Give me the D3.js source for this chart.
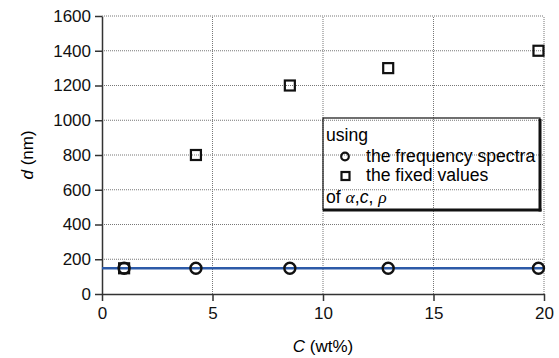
<!DOCTYPE html>
<html>
<head>
<meta charset="utf-8">
<script src="https://cdn.jsdelivr.net/npm/d3@7"></script>
<style>
  body { margin: 0; background: #fff; }
  svg { font-family: "Liberation Sans", Arial, sans-serif; }
</style>
</head>
<body>
<div id="chart"></div>
<script>
// data
var concentration = [1, 4.25, 8.5, 12.95, 19.75];
var dSpectra = [148, 148, 148, 148, 148];
var dFixed = [148, 800, 1200, 1300, 1400];
var fitLine = [{x: 0, y: 148}, {x: 20, y: 148}];
var xTicks = [0, 5, 10, 15, 20];
var yTicks = [0, 200, 400, 600, 800, 1000, 1200, 1400, 1600];

var width = 559, height = 358;
var margin = {top: 16, right: 15, bottom: 64, left: 102};

var svg = d3.select('#chart').append('svg')
    .attr('width', width)
    .attr('height', height);

var x = d3.scaleLinear().domain([0, 20]).range([margin.left, width - margin.right]);
var y = d3.scaleLinear().domain([0, 1600]).range([height - margin.bottom, margin.top]);

// grid
var grid = svg.append('g').attr('class', 'grid');
grid.selectAll('.hgrid')
    .data(yTicks.filter((d) => d > 0))
  .enter().append('line')
    .attr('x1', x(0)).attr('x2', x(20))
    .attr('y1', (d) => y(d)).attr('y2', (d) => y(d))
    .attr('stroke', '#777').attr('stroke-width', 1)
    .attr('stroke-dasharray', '1,1');
grid.selectAll('.vgrid')
    .data(xTicks.filter((d) => d > 0))
  .enter().append('line')
    .attr('x1', (d) => x(d)).attr('x2', (d) => x(d))
    .attr('y1', y(0)).attr('y2', y(1600))
    .attr('stroke', '#777').attr('stroke-width', 1)
    .attr('stroke-dasharray', '1,1');

// axes
var xAxis = svg.append('g')
    .attr('transform', 'translate(0,' + y(0) + ')')
    .call(d3.axisBottom(x).tickValues(xTicks).tickFormat(d3.format('d'))
      .tickSize(7).tickPadding(6).tickSizeOuter(0));
var yAxis = svg.append('g')
    .attr('transform', 'translate(' + x(0) + ',0)')
    .call(d3.axisLeft(y).tickValues(yTicks).tickFormat(d3.format('d'))
      .tickSize(7).tickPadding(4).tickSizeOuter(0));

[xAxis, yAxis].forEach((a) => {
  a.select('.domain').attr('stroke', '#333').attr('stroke-width', 1.5);
  a.selectAll('.tick line').attr('stroke', '#333').attr('stroke-width', 1.5);
  a.selectAll('.tick text')
      .attr('fill', '#111')
      .style('font-size', '17px')
      .style('font-family', '"Liberation Sans", Arial, sans-serif');
});

// axis titles
var xt = svg.append('text')
    .attr('x', (x(0) + x(20)) / 2)
    .attr('y', 352)
    .attr('text-anchor', 'middle')
    .style('font-size', '17px');
xt.append('tspan').style('font-style', 'italic').text('C');
xt.append('tspan').text(' (wt%)');

var yt = svg.append('text')
    .attr('transform', 'translate(33,' + (y(0) + y(1600)) / 2 + ') rotate(-90)')
    .attr('text-anchor', 'middle')
    .style('font-size', '17px');
yt.append('tspan').style('font-style', 'italic').text('d');
yt.append('tspan').text(' (nm)');

// fitted line
var line = d3.line().x((d) => x(d.x)).y((d) => y(d.y));
svg.append('path')
    .datum(fitLine)
    .attr('d', line)
    .attr('fill', 'none')
    .attr('stroke', '#2c5aa8')
    .attr('stroke-width', 2.5);

// squares: fixed values
var sq = 10;
svg.selectAll('.sq')
    .data(concentration.map((c, i) => ({x: c, y: dFixed[i]})))
  .enter().append('rect')
    .attr('x', (d) => x(d.x) - sq / 2)
    .attr('y', (d) => y(d.y) - sq / 2)
    .attr('width', sq).attr('height', sq)
    .attr('fill', 'none')
    .attr('stroke', '#111')
    .attr('stroke-width', 2.2);

// circles: frequency spectra
svg.selectAll('.pt')
    .data(concentration.map((c, i) => ({x: c, y: dSpectra[i]})))
  .enter().append('circle')
    .attr('cx', (d) => x(d.x))
    .attr('cy', (d) => y(d.y))
    .attr('r', 5.5)
    .attr('fill', 'none')
    .attr('stroke', '#111')
    .attr('stroke-width', 2.4);

// legend
var lg = svg.append('g');
var lx = 323, ly = 118, lw = 217, lh = 92;
lg.append('rect')
    .attr('x', lx).attr('y', ly).attr('width', lw).attr('height', lh)
    .attr('fill', 'none').attr('stroke', '#111').attr('stroke-width', 1.2);
lg.append('line')
    .attr('x1', lx + lw).attr('x2', lx + lw)
    .attr('y1', ly + 1).attr('y2', ly + lh + 1.5)
    .attr('stroke', '#111').attr('stroke-width', 3);
lg.append('line')
    .attr('x1', lx).attr('x2', lx + lw + 1.5)
    .attr('y1', ly + lh).attr('y2', ly + lh)
    .attr('stroke', '#111').attr('stroke-width', 3);

var fs = '17.6px';
lg.append('text').attr('x', lx + 3).attr('y', 141).style('font-size', fs).text('using');
lg.append('circle')
    .attr('cx', 345).attr('cy', 156.5).attr('r', 3.8)
    .attr('fill', 'none').attr('stroke', '#111').attr('stroke-width', 2.2);
lg.append('text').attr('x', 366).attr('y', 162).style('font-size', fs).text('the frequency spectra');
lg.append('rect')
    .attr('x', 341.5).attr('y', 172).attr('width', 8).attr('height', 8)
    .attr('fill', 'none').attr('stroke', '#111').attr('stroke-width', 2.2);
lg.append('text').attr('x', 366).attr('y', 181).style('font-size', fs).text('the fixed values');

var of = lg.append('text').attr('x', lx + 3).attr('y', 203).style('font-size', fs);
of.append('tspan').text('of ');
of.append('tspan').style('font-style', 'italic').style('font-family', '"Liberation Serif", serif').text('α');
of.append('tspan').text(',');
of.append('tspan').style('font-style', 'italic').text('c');
of.append('tspan').text(', ');
of.append('tspan').style('font-style', 'italic').style('font-family', '"Liberation Serif", serif').text('ρ');
</script>
</body>
</html>
